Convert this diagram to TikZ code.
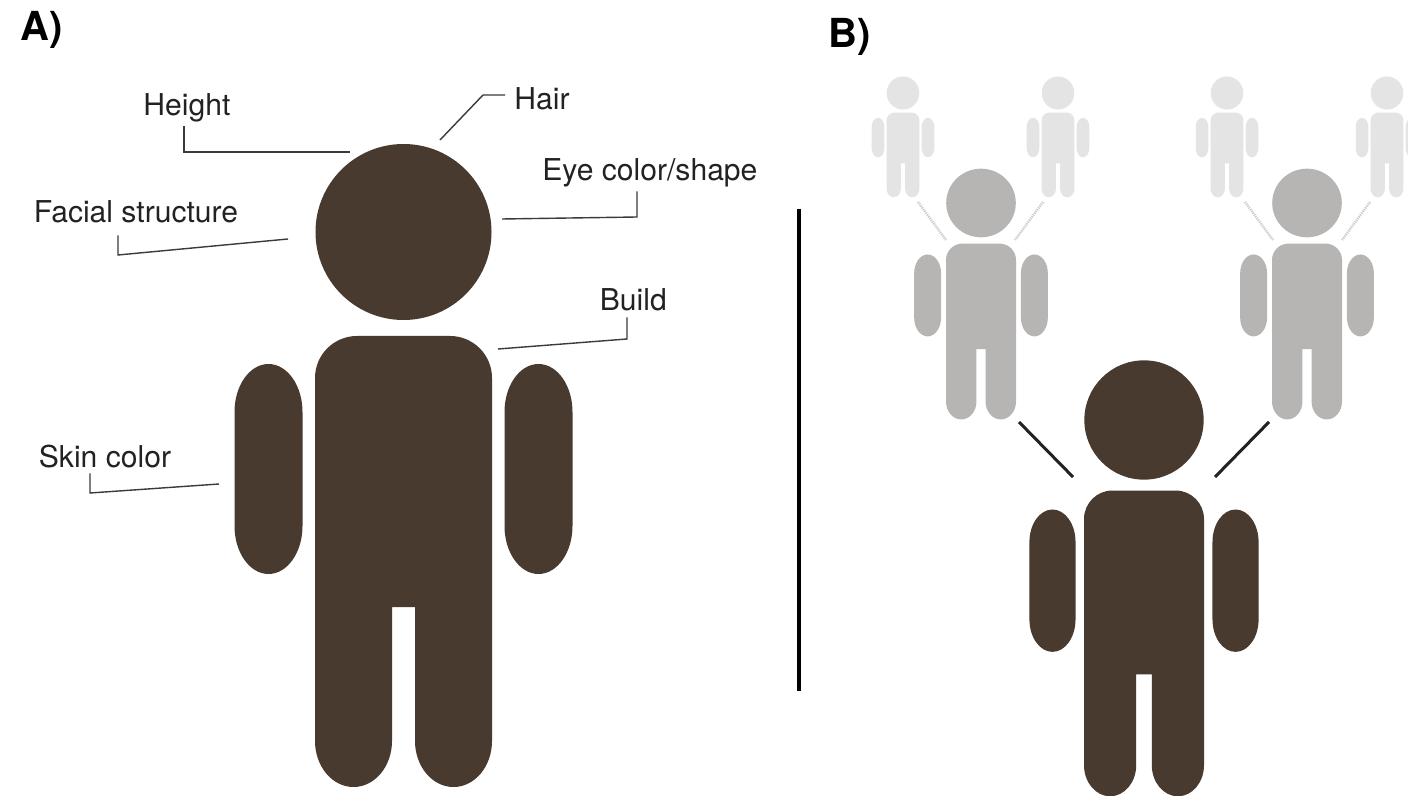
\documentclass[tikz,border=0pt]{standalone}
\usepackage{fontspec}
\setmainfont{TeX Gyre Heros}
\definecolor{skin}{HTML}{483A2E}
\definecolor{midgray}{HTML}{B6B5B4}
\definecolor{lightgray}{HTML}{E4E4E4}
\definecolor{inkline}{HTML}{3A3A3A}
\definecolor{inktext}{HTML}{222222}
\tikzset{
  pics/person/.style={code={
    \fill[#1] (0,0) circle (88);
    \fill[#1] (-88.5,509) -- (-88.5,146) arc (180:270:42) -- (46.5,104) arc (270:360:42)
      -- (88.5,509) arc (0:180:38.5 and 46) -- (11.5,375) -- (-11.5,375) -- (-11.5,509) arc (0:180:38.5 and 46) -- cycle;
    \fill[#1] (-169,180) arc (180:360:34 and 48) -- (-101,294) arc (0:180:34 and 48) -- cycle;
    \fill[#1] (101,180) arc (180:360:34 and 48) -- (169,294) arc (0:180:34 and 48) -- cycle;
  }},
  lab/.style={anchor=base west,inner sep=0pt,font=\fontsize{15.05}{17}\selectfont,text=inktext},
  panel/.style={anchor=base west,inner sep=0pt,font=\fontsize{20}{22}\selectfont\bfseries,text=black},
  leader/.style={draw=inkline,line width=0.7pt,line join=miter},
  link/.style={draw=inktext,line width=1.5pt},
  faintlink/.style={draw=midgray!70,line width=1.2pt,dash pattern=on 0.6pt off 0.5pt},
}
\begin{document}
\begin{tikzpicture}[x=0.5pt,y=-0.5pt]
\useasboundingbox (0,0) rectangle (1408,796);
\fill[white] (0,0) rectangle (1408,796);
% panel labels
\node[panel] (pA) at (20.5,41) {A)};
\node[panel] (pB) at (828,47.5) {B)};
% persons
\pic at (403.5,232) {person=skin};
\pic[scale=.678] at (1144,420) {person=skin};
\pic[xscale=.3955,yscale=.39] at (981,203) {person=midgray};
\pic[xscale=.3955,yscale=.39] at (1307,203) {person=midgray};
\pic[xscale=.185,yscale=.188] at (903,93) {person=lightgray};
\pic[xscale=.185,yscale=.188] at (1058,93) {person=lightgray};
\pic[xscale=.185,yscale=.188] at (1227,93) {person=lightgray};
\pic[xscale=.185,yscale=.188] at (1387,93) {person=lightgray};
% divider
\coordinate (divT) at (799,209);
\coordinate (divB) at (799,691);
\draw[line width=2pt,black] (divT) -- (divB);
% labels
\node[lab,text depth=5pt] (nHeight) at (143,116) {Height};
\node[lab,text depth=6pt] (nFacial) at (33.5,223) {Facial structure};
\node[lab,inner xsep=4.5pt] (nHair) at (505,110) {Hair};
\node[lab,text depth=5pt] (nEye) at (542,181) {Eye color/shape};
\node[lab,text depth=3pt] (nBuild) at (599.5,311) {Build};
\node[lab,text depth=3pt] (nSkin) at (38.5,467) {Skin color};
% leaders
\coordinate (hB) at (184,152); \coordinate (hE) at (350,152);
\draw[leader] (nHeight.south -| hB) -- (hB) -- (hE);
\coordinate (fB) at (118,255); \coordinate (fE) at (288,239);
\draw[leader] (nFacial.south -| fB) -- (fB) -- (fE);
\coordinate (aB) at (483,95); \coordinate (aE) at (440,140);
\draw[leader] (nHair.west |- aB) -- (aB) -- (aE);
\coordinate (eB) at (637,217); \coordinate (eE) at (502,219);
\draw[leader] (nEye.south -| eB) -- (eB) -- (eE);
\coordinate (bB) at (627,339); \coordinate (bE) at (498,349);
\draw[leader] (nBuild.south -| bB) -- (bB) -- (bE);
\coordinate (sB) at (90,493); \coordinate (sE) at (219,484);
\draw[leader] (nSkin.south -| sB) -- (sB) -- (sE);
% kinship links
\coordinate (l1a) at (1019,422); \coordinate (l1b) at (1073,477);
\coordinate (l2a) at (1269,422); \coordinate (l2b) at (1215,477);
\draw[link] (l1a) -- (l1b);
\draw[link] (l2a) -- (l2b);
\coordinate (f1a) at (918,202); \coordinate (f1b) at (946,240);
\coordinate (f2a) at (1043,202); \coordinate (f2b) at (1015,240);
\coordinate (f3a) at (1245,202); \coordinate (f3b) at (1273,240);
\coordinate (f4a) at (1370,202); \coordinate (f4b) at (1342,240);
\draw[faintlink] (f1a) -- (f1b);
\draw[faintlink] (f2a) -- (f2b);
\draw[faintlink] (f3a) -- (f3b);
\draw[faintlink] (f4a) -- (f4b);
\end{tikzpicture}
\end{document}
